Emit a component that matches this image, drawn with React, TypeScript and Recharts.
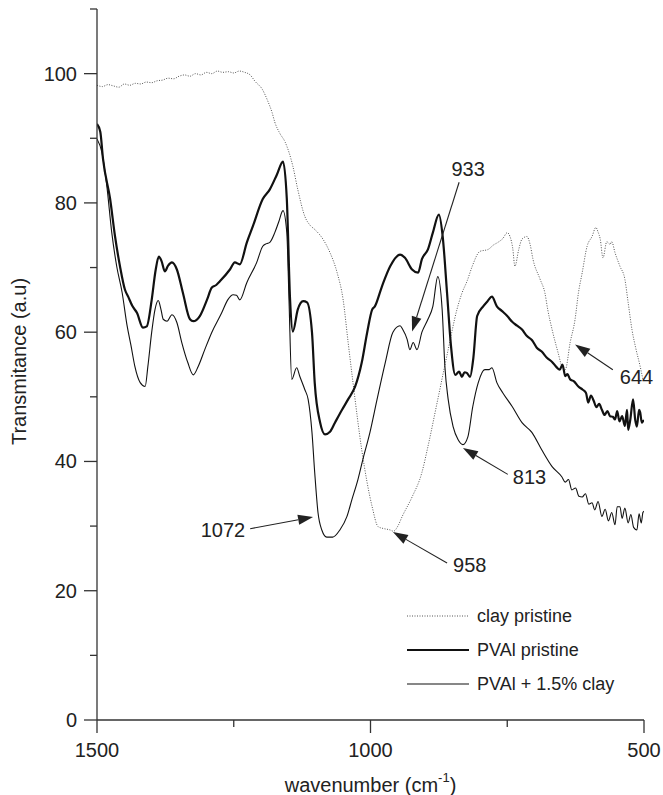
// FTIR spectra — clay, PVAl and PVAl + 1.5% clay (recharts, reversed wavenumber axis).
import { Legend, Line, LineChart, ReferenceLine, XAxis, YAxis } from "recharts";

const FONT = '"Liberation Sans", Arial, Helvetica, sans-serif';
const INK = "#222";

// clay pristine (dotted)
const CLAY_WN = [1500, 1490, 1480, 1470, 1460, 1450, 1440, 1430, 1420, 1410, 1400, 1390, 1380, 1370, 1360, 1350, 1340, 1330, 1320, 1310, 1300, 1290, 1280, 1270, 1260, 1250, 1240, 1230, 1220, 1211, 1198, 1188, 1180, 1175, 1166, 1156, 1142, 1133, 1120, 1110, 1102, 1087, 1074, 1061, 1050, 1041, 1032, 1016, 997, 986, 975, 964, 958, 950, 942, 924, 906, 895, 877, 858, 842, 833, 823, 814, 800, 785, 775, 767, 758, 750, 745, 740, 736, 729, 723, 714, 708, 703, 690, 681, 676, 668, 657, 650, 644, 635, 626, 620, 613, 604, 595, 588, 584, 580, 575, 568, 562, 559, 553, 544, 535, 529, 522, 515, 507, 502];
const CLAY_T = [98.2, 98.0, 98.3, 98.1, 97.9, 98.4, 98.2, 98.5, 98.4, 98.7, 98.6, 98.9, 99.0, 99.3, 99.2, 99.6, 99.8, 99.6, 100.0, 99.8, 100.2, 100.0, 100.4, 100.2, 100.3, 100.1, 100.4, 100.2, 99.8, 98.8, 97.6, 95.8, 94.0, 92.5, 90.8, 89.4, 85.7, 82.1, 77.9, 76.5, 75.9, 74.4, 72.3, 69.2, 65.0, 58.5, 52.2, 41.8, 33.0, 29.9, 29.6, 29.4, 29.2, 30.0, 31.5, 34.5, 38.3, 42.3, 49.6, 57.3, 63.5, 66.0, 68.0, 70.2, 72.5, 72.8, 73.5, 73.9, 74.5, 75.4, 74.8, 73.0, 70.2, 72.8, 74.4, 74.8, 73.5, 71.3, 68.2, 66.0, 63.5, 60.4, 56.8, 54.7, 54.2, 58.4, 62.0, 66.0, 69.2, 73.3, 74.8, 76.2, 75.5, 74.4, 71.5, 74.0, 73.6, 74.0, 72.3, 70.2, 68.2, 64.6, 60.4, 57.5, 54.7, 52.7];

// PVAl pristine (thick)
const PVAL_WN = [1500, 1494, 1489, 1476, 1467, 1458, 1449, 1443, 1435, 1427, 1416, 1409, 1400, 1393, 1387, 1382, 1376, 1370, 1363, 1354, 1343, 1330, 1324, 1312, 1299, 1290, 1282, 1275, 1257, 1248, 1239, 1226, 1215, 1197, 1184, 1171, 1160, 1153, 1147, 1142, 1133, 1123, 1116, 1107, 1102, 1092, 1083, 1074, 1065, 1052, 1041, 1028, 1016, 1006, 997, 992, 979, 964, 946, 937, 924, 913, 906, 895, 886, 875, 868, 860, 853, 845, 838, 833, 828, 824, 818, 812, 805, 794, 786, 778, 769, 760, 750, 741, 732, 723, 714, 705, 696, 687, 677, 668, 660, 654, 649, 644, 640, 635, 628, 620, 612, 606, 602, 597, 592, 587, 582, 577, 572, 567, 562, 557, 553, 549, 545, 540, 535, 531, 529, 525, 520, 516, 513, 509, 507, 504, 502, 500];
const PVAL_T = [92.2, 91.0, 86.8, 80.6, 74.8, 70.2, 66.6, 65.5, 64.0, 63.0, 60.7, 60.9, 65.0, 69.5, 71.7, 71.0, 69.4, 70.3, 70.8, 69.7, 66.1, 62.0, 61.7, 62.5, 65.0, 66.9, 67.3, 67.9, 69.7, 70.8, 70.5, 73.9, 76.4, 80.6, 82.1, 84.4, 86.4, 80.6, 65.0, 60.1, 63.5, 64.8, 64.6, 60.0, 52.2, 46.0, 44.2, 44.6, 46.0, 48.0, 49.6, 51.6, 55.3, 60.0, 63.5, 64.0, 67.1, 70.2, 72.0, 71.5, 69.7, 69.2, 71.3, 72.8, 75.4, 78.2, 74.8, 66.0, 58.0, 53.4, 53.9, 53.1, 53.8, 53.7, 53.1, 56.0, 62.5, 64.0, 64.8, 65.5, 64.0, 63.3, 62.5, 61.6, 61.0, 60.4, 59.4, 58.8, 57.6, 57.0, 56.0, 55.4, 54.6, 54.2, 55.0, 53.2, 53.5, 52.7, 52.4, 51.6, 51.1, 50.6, 49.1, 50.2, 49.4, 48.4, 48.9, 48.0, 47.2, 47.8, 47.0, 46.9, 46.5, 47.8, 46.2, 47.0, 45.5, 48.0, 44.9, 46.5, 49.6, 46.4, 45.4, 48.0, 47.6, 46.0, 46.2, 46.4];

// PVAl + 1.5% clay (thin)
const MIX_WN = [1500, 1491, 1482, 1473, 1464, 1454, 1445, 1438, 1431, 1421, 1412, 1407, 1400, 1394, 1388, 1383, 1379, 1372, 1363, 1354, 1345, 1334, 1324, 1315, 1303, 1290, 1272, 1261, 1251, 1245, 1239, 1226, 1208, 1197, 1190, 1184, 1175, 1168, 1160, 1153, 1149, 1144, 1135, 1129, 1120, 1114, 1107, 1102, 1096, 1089, 1080, 1069, 1056, 1043, 1034, 1023, 1014, 1001, 988, 973, 959, 946, 941, 933, 928, 922, 915, 906, 895, 886, 877, 869, 864, 858, 849, 840, 831, 822, 813, 803, 791, 783, 778, 769, 758, 741, 723, 705, 687, 668, 650, 644, 638, 632, 625, 619, 613, 607, 601, 595, 590, 584, 577, 571, 565, 559, 553, 549, 544, 540, 535, 529, 524, 519, 513, 509, 505, 502, 500];
const MIX_T = [89.9, 87.8, 82.6, 75.4, 70.2, 66.1, 61.0, 58.0, 54.8, 52.2, 51.6, 54.7, 60.0, 63.5, 64.9, 63.5, 62.0, 61.7, 62.7, 61.5, 58.4, 55.3, 53.4, 54.7, 57.3, 60.0, 63.0, 65.0, 65.8, 65.7, 65.0, 67.7, 70.8, 73.3, 73.7, 73.9, 75.4, 77.0, 78.8, 75.4, 65.0, 52.7, 54.5, 53.1, 51.1, 49.6, 44.5, 38.3, 32.1, 29.4, 28.3, 28.3, 29.4, 31.5, 34.1, 37.2, 40.3, 44.5, 49.6, 55.3, 60.0, 61.0, 60.4, 58.9, 57.3, 58.4, 57.3, 60.0, 62.0, 64.0, 68.6, 63.5, 54.7, 49.6, 45.4, 43.4, 42.6, 43.8, 48.5, 52.2, 54.2, 54.2, 54.5, 52.2, 50.6, 48.5, 46.0, 44.5, 41.8, 39.2, 37.6, 36.8, 37.2, 35.6, 35.9, 34.6, 34.5, 35.0, 33.4, 33.6, 32.5, 33.8, 31.5, 32.6, 30.8, 32.1, 30.2, 33.0, 33.0, 31.2, 32.8, 30.5, 31.8, 29.8, 29.4, 31.9, 30.5, 32.1, 32.3];

const Y_TICKS = [0, 10, 20, 30, 40, 50, 60, 70, 80, 90, 100, 110];
const X_TICKS = [1500, 1250, 1000, 750, 500];
const X_LABELED = [1500, 1000, 500];

// arrows: [tail wn, tail T] -> [tip wn, tip T]
const ANNOTATIONS = [
  { text: "933", tail: [838, 83.2], tip: [924, 60.1], dx: 9, dy: -13, anchor: "middle" },
  { text: "644", tail: [557, 54.2], tip: [626, 58.1], dx: 7, dy: 7, anchor: "start" },
  { text: "813", tail: [749, 38.0], tip: [831, 42.1], dx: 5, dy: 3, anchor: "start" },
  { text: "958", tail: [860, 24.3], tip: [959, 29.1], dx: 6, dy: 2, anchor: "start" },
  { text: "1072", tail: [1220, 29.6], tip: [1105, 31.4], dx: -5, dy: 1, anchor: "end" },
];

const zip = (wn: number[], t: number[]) => wn.map((w, i) => ({ wn: w, t: t[i] }));

const SERIES = [
  { name: "clay pristine", data: zip(CLAY_WN, CLAY_T), stroke: "#555", width: 1, dash: "1 1.5" },
  { name: "PVAl pristine", data: zip(PVAL_WN, PVAL_T), stroke: "#111", width: 2.2, dash: undefined },
  { name: "PVAl + 1.5% clay", data: zip(MIX_WN, MIX_T), stroke: "#111", width: 1.1, dash: undefined },
];

function YTick({ x, y, payload }: any) {
  const v = payload.value as number;
  const major = v % 20 === 0;
  return (
    <g>
      <line x1={x - (major ? 13 : 7)} x2={x} y1={y} y2={y} stroke="#333" strokeWidth={1.3} />
      {major && v <= 100 && (
        <text x={x - 20} y={y} textAnchor="end" dominantBaseline="central" fontSize={20} fill={INK} fontFamily={FONT}>{v}</text>
      )}
    </g>
  );
}

function XTick({ x, y, payload }: any) {
  const v = payload.value as number;
  const major = X_LABELED.includes(v);
  return (
    <g>
      <line x1={x} x2={x} y1={y} y2={y + (major ? 13 : 7)} stroke="#333" strokeWidth={1.3} />
      {major && (
        <text x={x} y={y + 30} textAnchor="middle" dominantBaseline="central" fontSize={20} fill={INK} fontFamily={FONT}>{v}</text>
      )}
    </g>
  );
}

function YTitle({ viewBox }: any) {
  const cx = 19;
  const cy = viewBox.y + viewBox.height / 2 - 3;
  return (
    <text x={cx} y={cy} transform={`rotate(-90 ${cx} ${cy})`} textAnchor="middle" dominantBaseline="central" fontSize={20} fill={INK} fontFamily={FONT}>
      Transmitance (a.u)
    </text>
  );
}

function XTitle({ viewBox }: any) {
  const cx = viewBox.x + viewBox.width / 2;
  const cy = viewBox.y + 65;
  return (
    <text x={cx} y={cy} textAnchor="middle" dominantBaseline="central" fontSize={20} fill={INK} fontFamily={FONT}>
      wavenumber (cm<tspan dy={-8} fontSize={13}>-1</tspan><tspan dy={8}>)</tspan>
    </text>
  );
}

function Arrow({ x1, y1, x2, y2, ann }: any) {
  const ang = Math.atan2(y2 - y1, x2 - x1);
  const len = 15;
  const hw = 5;
  const bx = x2 - len * Math.cos(ang);
  const by = y2 - len * Math.sin(ang);
  const px = -Math.sin(ang) * hw;
  const py = Math.cos(ang) * hw;
  return (
    <g>
      <line x1={x1} y1={y1} x2={bx} y2={by} stroke={INK} strokeWidth={1.1} />
      <polygon points={`${x2},${y2} ${bx + px},${by + py} ${bx - px},${by - py}`} fill={INK} />
      <text x={x1 + ann.dx} y={y1 + ann.dy} textAnchor={ann.anchor} dominantBaseline="central" fontSize={20} fill={INK} fontFamily={FONT}>
        {ann.text}
      </text>
    </g>
  );
}

function LegendBox() {
  return (
    <div style={{ fontFamily: FONT, fontSize: 18, color: INK }}>
      {SERIES.map((s) => (
        <div key={s.name} style={{ display: "flex", alignItems: "center", height: 34 }}>
          <svg width={62} height={6} style={{ marginRight: 8 }}>
            <line x1={0} x2={62} y1={3} y2={3} stroke={s.stroke} strokeWidth={s.width} strokeDasharray={s.dash} />
          </svg>
          <span>{s.name}</span>
        </div>
      ))}
    </div>
  );
}

export default function App() {
  return (
    <div style={{ position: "absolute", left: 0, top: 0, background: "#fff" }}>
      <LineChart width={663} height={795} margin={{ top: 9, right: 19, left: 0, bottom: 0 }}>
        <XAxis
          dataKey="wn"
          type="number"
          domain={[500, 1500]}
          reversed
          allowDataOverflow
          ticks={X_TICKS}
          interval={0}
          tick={<XTick />}
          tickLine={false}
          tickSize={0}
          tickMargin={0}
          height={75}
          axisLine={{ stroke: "#333", strokeWidth: 1.3 }}
          label={<XTitle />}
        />
        <YAxis
          dataKey="t"
          type="number"
          domain={[0, 110]}
          allowDataOverflow
          ticks={Y_TICKS}
          interval={0}
          tick={<YTick />}
          tickLine={false}
          tickSize={0}
          tickMargin={0}
          width={97}
          axisLine={{ stroke: "#333", strokeWidth: 1.3 }}
          label={<YTitle />}
        />
        {SERIES.map((s) => (
          <Line
            key={s.name}
            data={s.data}
            dataKey="t"
            name={s.name}
            type="monotone"
            stroke={s.stroke}
            strokeWidth={s.width}
            strokeDasharray={s.dash}
            dot={false}
            activeDot={false}
            isAnimationActive={false}
          />
        ))}
        {ANNOTATIONS.map((a) => (
          <ReferenceLine
            key={a.text}
            segment={[{ x: a.tail[0], y: a.tail[1] }, { x: a.tip[0], y: a.tip[1] }]}
            ifOverflow="visible"
            shape={(p: any) => <Arrow {...p} ann={a} />}
          />
        ))}
        <Legend
          layout="vertical"
          align="center"
          verticalAlign="middle"
          content={<LegendBox />}
          wrapperStyle={{ left: 407, top: 599, width: "auto" }}
        />
      </LineChart>
    </div>
  );
}
